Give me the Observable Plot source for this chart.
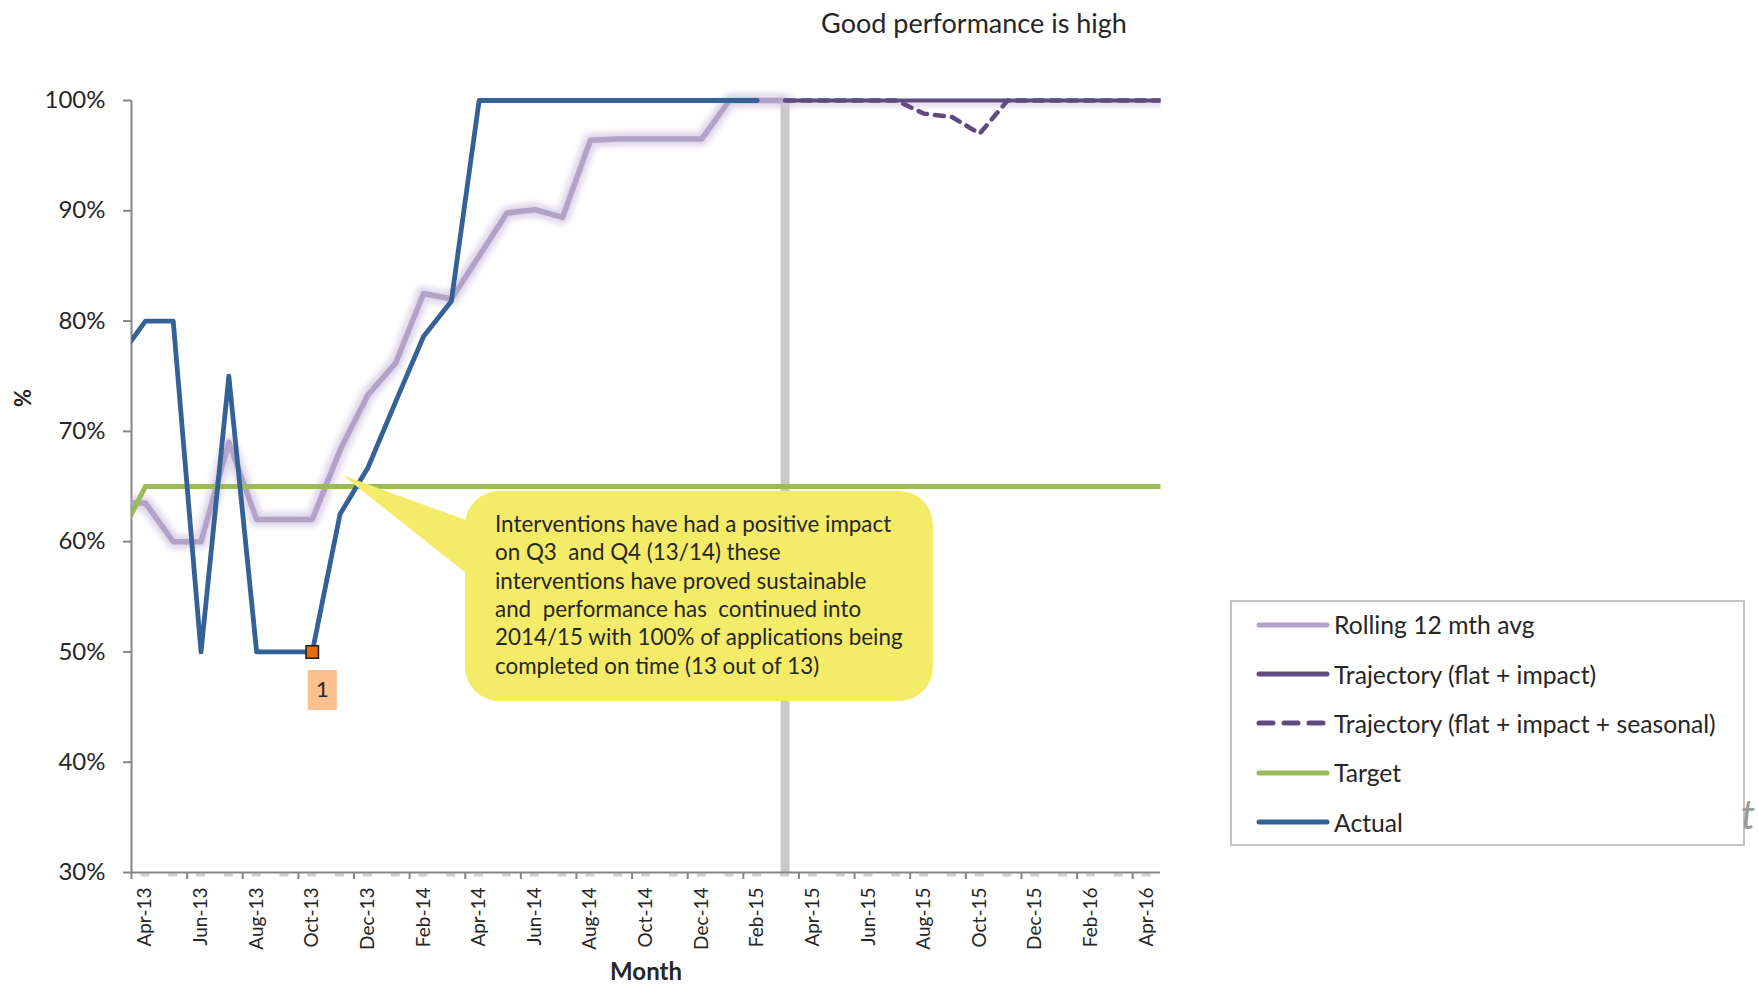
<!DOCTYPE html>
<html>
<head>
<meta charset="utf-8">
<script src="https://cdn.jsdelivr.net/npm/d3@7"></script>
<script src="https://cdn.jsdelivr.net/npm/@observablehq/plot@0.6"></script>
<style>
  html, body { margin: 0; padding: 0; background: #fff; }
  #wrap { position: relative; width: 1758px; height: 985px; overflow: hidden;
          font-family: Lato, "Open Sans", sans-serif; color: #262626; }
  #wrap svg { position: absolute; left: 0; top: 0; }
  .abs { position: absolute; white-space: nowrap; }
  #title { left: 974px; top: 22px; transform: translate(-50%, -50%); font-size: 27px; }
  #ylab { left: 22px; top: 398px; transform: translate(-50%, -50%) rotate(-90deg); font-size: 22px; font-weight: bold; }
  #xlab { left: 646px; top: 970px; transform: translate(-50%, -50%); font-size: 24px; font-weight: bold; }
  #legend { left: 1230px; top: 600px; width: 511px; height: 242px; border: 2px solid #c3c3c3; }
  .lg-row { position: absolute; left: 0; height: 40px; display: flex; align-items: center; }
  .lg-row span { font-size: 24.7px; margin-left: 4px; }
  #tcut { left: 1741px; top: 790px; font-size: 40px; line-height: 48px; font-style: italic; color: #9a9a9a; }
</style>
</head>
<body>
<div id="wrap">
  <div id="title" class="abs">Good performance is high</div>
  <div id="ylab" class="abs">%</div>
  <div id="xlab" class="abs">Month</div>
  <div id="legend" class="abs"></div>
  <div id="tcut" class="abs">t</div>
</div>
<script>
// ---- data ----
const months = ["Mar-13","Apr-13","May-13","Jun-13","Jul-13","Aug-13","Sep-13","Oct-13","Nov-13","Dec-13",
  "Jan-14","Feb-14","Mar-14","Apr-14","May-14","Jun-14","Jul-14","Aug-14","Sep-14","Oct-14","Nov-14","Dec-14",
  "Jan-15","Feb-15","Mar-15","Apr-15","May-15","Jun-15","Jul-15","Aug-15","Sep-15","Oct-15","Nov-15","Dec-15",
  "Jan-16","Feb-16","Mar-16","Apr-16","May-16"];
const actual = [76.5, 80, 80, 50, 75, 50, 50, 50, 62.5, 66.7, 72.7, 78.6, 81.8,
  100, 100, 100, 100, 100, 100, 100, 100, 100, 100, 100,
  null, null, null, null, null, null, null, null, null, null, null, null, null, null, null];
const rolling = [63.5, 63.5, 60, 60, 69, 62, 62, 62, 68.3, 73.3, 76.2, 82.5, 82,
  85.9, 89.8, 90.1, 89.4, 96.4, 96.5, 96.5, 96.5, 96.5, 100, 100, 100,
  null, null, null, null, null, null, null, null, null, null, null, null, null, null];
const trajectory = [null, null, null, null, null, null, null, null, null, null, null, null,
  null, null, null, null, null, null, null, null, null, null, null, null,
  100, 100, 100, 100, 100, 100, 100, 100, 100, 100, 100, 100, 100, 100, 100];
const seasonal = [null, null, null, null, null, null, null, null, null, null, null, null,
  null, null, null, null, null, null, null, null, null, null, null, null,
  100, 100, 100, 100, 100, 98.8, 98.5, 97.0, 100, 100, 100, 100, 100, 100, 100];
const target = [60, 65, 65, 65, 65, 65, 65, 65, 65, 65, 65, 65, 65, 65, 65, 65, 65, 65, 65, 65,
  65, 65, 65, 65, 65, 65, 65, 65, 65, 65, 65, 65, 65, 65, 65, 65, 65, 65, 65];
const tickLabels = ["Apr-13","Jun-13","Aug-13","Oct-13","Dec-13","Feb-14","Apr-14","Jun-14","Aug-14",
  "Oct-14","Dec-14","Feb-15","Apr-15","Jun-15","Aug-15","Oct-15","Dec-15","Feb-16","Apr-16"];
const yTicks = [30, 40, 50, 60, 70, 80, 90, 100];
const forecastStart = ["Mar-15"];
const markers = [{month: "Oct-13", value: 50, label: "1"}];
const calloutAnchor = {month: "Nov-13", offset: 0.1, value: 66};
const calloutLines = [
  "Interventions have had a positive impact",
  "on Q3  and Q4 (13/14) these",
  "interventions have proved sustainable",
  "and  performance has  continued into",
  "2014/15 with 100% of applications being",
  "completed on time (13 out of 13)"];
const legendItems = [
  {label: "Rolling 12 mth avg", color: "#b3a2c7", dash: null},
  {label: "Trajectory (flat + impact)", color: "#5f4b80", dash: null},
  {label: "Trajectory (flat + impact + seasonal)", color: "#5f4b80", dash: "14 11"},
  {label: "Target", color: "#9bbb59", dash: null},
  {label: "Actual", color: "#346196", dash: null}];

// ---- chart ----
const idx = m => months.indexOf(m) - 1;
const rows = months.map((m, k) => ({i: k - 1, month: m, actual: actual[k], rolling: rolling[k],
  trajectory: trajectory[k], seasonal: seasonal[k], target: target[k]}));
const W = 1758, H = 985, ML = 131, MR = 598, MT = 100, MB = 113;
const xDomain = [idx(tickLabels[0]) - 0.5, idx(tickLabels[tickLabels.length - 1]) + 0.5];
const mw = (W - ML - MR) / (xDomain[1] - xDomain[0]);
const boxSymbol = {draw(ctx) { ctx.rect(-14.5, -20, 29, 40); }};

const chart = Plot.plot({
  width: W, height: H,
  marginLeft: ML, marginRight: MR, marginTop: MT, marginBottom: MB,
  x: {type: "linear", domain: xDomain, label: null},
  y: {domain: [30, 100], label: null},
  style: {fontFamily: "Lato, 'Open Sans', sans-serif", color: "#262626", background: "transparent", overflow: "visible"},
  marks: [
    Plot.ruleX(forecastStart, {x: d => idx(d), y1: 30, y2: 100, stroke: "#c8c8c8", strokeWidth: 9}),
    Plot.ruleY([30], {stroke: "#cfcfcf", strokeWidth: 3, dy: 2.5,
      strokeDasharray: `9 ${mw - 9}`, strokeDashoffset: mw / 2 + 4.5}),
    Plot.axisY({ticks: yTicks, tickFormat: d => d + "%", tickSize: 8, tickPadding: 18, fontSize: 24,
      stroke: "#868686", strokeWidth: 2, label: null}),
    Plot.axisX({ticks: tickLabels.map(m => idx(m) - 0.5), tickFormat: () => "", tickSize: 7,
      stroke: "#868686", strokeWidth: 2, label: null}),
    Plot.axisX({ticks: tickLabels.map(idx), tickFormat: i => months[i + 1], tickSize: 0, tickPadding: 15,
      tickRotate: -90, fontSize: 19, label: null}),
    Plot.ruleX([xDomain[0]], {y1: 30, y2: 100, stroke: "#868686", strokeWidth: 2}),
    Plot.ruleY([30], {x1: xDomain[0], x2: xDomain[1], stroke: "#868686", strokeWidth: 2}),
    // rolling avg with glow
    Plot.line(rows, {x: "i", y: "rolling", stroke: "#c6b8da", strokeWidth: 14, strokeOpacity: 0.6, imageFilter: "blur(3px)"}),
    Plot.line(rows, {x: "i", y: "rolling", stroke: "#b3a2c7", strokeWidth: 5.5}),
    // target
    Plot.line(rows, {x: "i", y: "target", stroke: "#9bbb59", strokeWidth: 5}),
    // trajectories
    Plot.line(rows, {x: "i", y: "trajectory", stroke: "#d6cde4", strokeWidth: 8, strokeOpacity: 0.6, dy: 3, imageFilter: "blur(2px)"}),
    Plot.line(rows, {x: "i", y: "seasonal", stroke: "#5f4b80", strokeWidth: 4.5, strokeDasharray: "9 8", strokeLinecap: "round"}),
    Plot.line(rows, {x: "i", y: "trajectory", stroke: "#5f4b80", strokeWidth: 4}),
    // actual
    Plot.line(rows, {x: "i", y: "actual", stroke: "#346196", strokeWidth: 4.8}),
    // marker + label
    Plot.dot(markers, {x: d => idx(d.month), y: "value", symbol: "square", r: 7, fill: "#e46c0a", stroke: "#1a1a1a", strokeWidth: 1.5}),
    Plot.dot(markers, {x: d => idx(d.month), y: "value", symbol: boxSymbol, r: 1, fill: "#fac090", dx: 10, dy: 38}),
    Plot.text(markers, {x: d => idx(d.month), y: "value", text: "label", dx: 10, dy: 38, fontSize: 22, fill: "#262626"})
  ]
});
document.getElementById("wrap").appendChild(chart);

// clip lines horizontally to the plot area
const xs = chart.scale("x"), ys = chart.scale("y");
const svg = d3.select(chart);
const x0 = xs.apply(xDomain[0]), x1 = xs.apply(xDomain[1]);
svg.append("defs").append("clipPath").attr("id", "hclip")
  .append("rect").attr("x", x0).attr("y", 0).attr("width", x1 - x0).attr("height", H);
svg.selectAll('g[aria-label="line"]').attr("clip-path", "url(#hclip)");

// callout
const tipX = xs.apply(idx(calloutAnchor.month) + calloutAnchor.offset), tipY = ys.apply(calloutAnchor.value);
const bx = 465, by = 491, bw = 468, bh = 210, br = 34;
const g = svg.append("g").attr("aria-label", "callout");
g.append("path").attr("fill", "#f4ec68")
  .attr("d", `M${tipX},${tipY} L${bx + 6},${by + 31} L${bx + 6},${by + 86} Z`);
g.append("rect").attr("x", bx).attr("y", by).attr("width", bw).attr("height", bh)
  .attr("rx", br).attr("ry", br).attr("fill", "#f4ec68");
const t = g.append("text").attr("font-size", 22.4).attr("fill", "#262626").attr("text-anchor", "start");
calloutLines.forEach((line, k) => {
  t.append("tspan").attr("x", bx + 30).attr("y", by + 41 + k * 28.3).text(line);
});

// legend
const legend = document.getElementById("legend");
const rowTops = [624.5, 674, 723, 772.5, 822];
legendItems.forEach((it, k) => {
  const row = document.createElement("div");
  row.className = "lg-row";
  row.style.top = (rowTops[k] - 600 - 2 - 20) + "px";
  row.style.left = "24px";
  row.innerHTML = `<svg width="74" height="12" style="position:static"><line x1="3" y1="6" x2="71" y2="6" stroke="${it.color}" stroke-width="5" stroke-linecap="round" ${it.dash ? `stroke-dasharray="${it.dash}"` : ""}/></svg><span>${it.label}</span>`;
  legend.appendChild(row);
});
</script>
</body>
</html>
